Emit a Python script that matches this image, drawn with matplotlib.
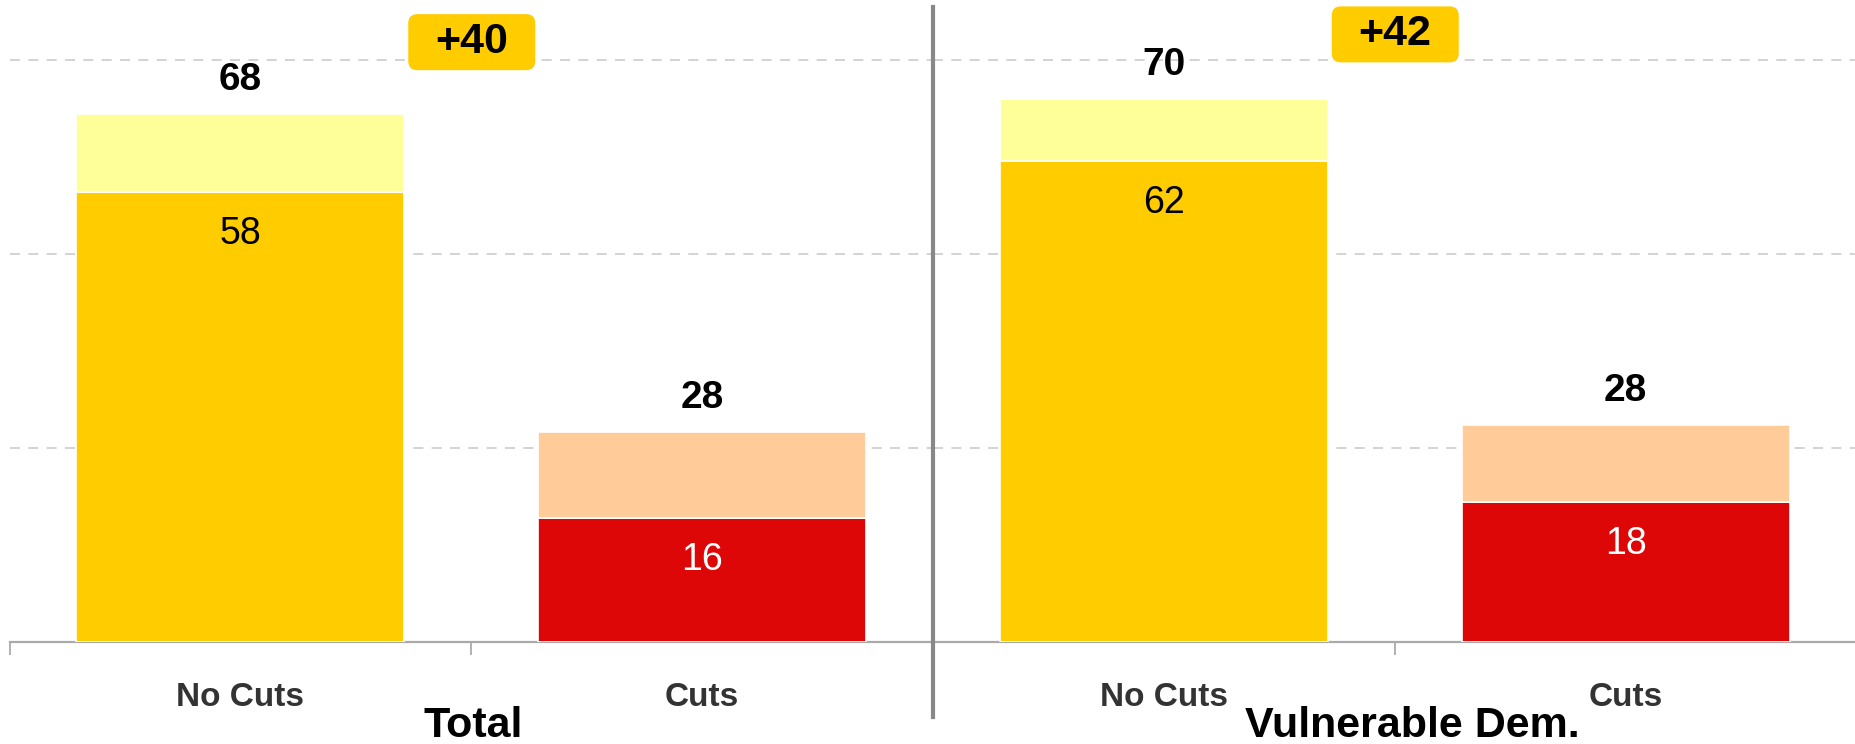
import matplotlib
matplotlib.use('Agg')
import matplotlib.pyplot as plt
from matplotlib.patches import FancyBboxPatch
from matplotlib.lines import Line2D
from matplotlib.transforms import IdentityTransform

plt.rcParams['font.family'] = ['Liberation Sans', 'DejaVu Sans']

groups = ['Total', 'Vulnerable Dem.']
categories = ['No Cuts', 'Cuts']
base_vals = [[58, 16], [62, 18]]
total_vals = [[68, 27], [70, 28]]
total_labels = [['68', '28'], ['70', '28']]
gap_labels = ['+40', '+42']

base_colors = ['#FFCC00', '#DD0707']
top_colors = ['#FFFF99', '#FFCC99']
inner_text = ['black', 'white']

W, H = 1855, 744
fig = plt.figure(figsize=(W / 100, H / 100), dpi=100)

base_y = 642           # pixel row of the baseline (from top)
ymax = base_y / 7.76   # axes reaches the top of the figure
panel_w = 923.5
group_label_x = [473, 1412]
badge_lift = [9.3, 8.3]

for g in range(2):
	x0 = 9.5 + g * panel_w
	ax = fig.add_axes([x0 / W, (H - base_y) / H, panel_w / W, base_y / H])
	ax.set_xlim(-0.5, 1.5)
	ax.set_ylim(0, ymax)

	xs = list(range(len(categories)))
	tops = [t - b for t, b in zip(total_vals[g], base_vals[g])]
	ax.bar(xs, base_vals[g], width=0.71, color=base_colors, edgecolor='white', linewidth=1.2, zorder=3)
	ax.bar(xs, tops, bottom=base_vals[g], width=0.71, color=top_colors, edgecolor='white', linewidth=1.2, zorder=3)

	for i in xs:
		ax.text(i, total_vals[g][i] + 4.4, total_labels[g][i], ha='center', va='center',
			fontsize=28, fontweight='bold', color='black', zorder=5)
		ax.text(i, base_vals[g][i] - 5.4, str(base_vals[g][i]), ha='center', va='center',
			fontsize=27, color=inner_text[i], zorder=5)

	# difference badge
	by = max(total_vals[g]) + badge_lift[g]
	cx, cy = ax.transData.transform((0.5, by))
	badge = FancyBboxPatch((cx - 63, cy - 28), 127, 56, boxstyle='round,pad=0,rounding_size=9',
		facecolor='#FFCC00', edgecolor='none', transform=IdentityTransform(), zorder=4, clip_on=False)
	ax.add_patch(badge)
	ax.text(0.5, by, gap_labels[g], ha='center', va='center', fontsize=31, fontweight='bold',
		color='black', zorder=6)

	ax.set_yticks([25, 50, 75])
	ax.set_yticklabels([])
	ax.tick_params(axis='y', length=0)
	ax.yaxis.grid(True, color='#CCCCCC', linestyle=(0, (6, 5)), linewidth=1.2, zorder=0)
	ax.set_axisbelow(True)

	ax.set_xticks(xs)
	ax.set_xticklabels(categories, fontsize=24, fontweight='bold', color='#333333')
	ax.tick_params(axis='x', which='major', length=0, pad=29)
	ax.set_xticks([-0.5, 0.5, 1.5], minor=True)
	ax.tick_params(axis='x', which='minor', length=9, width=1.3, color='#AAAAAA')

	for s in ['top', 'left', 'right']:
		ax.spines[s].set_visible(False)
	ax.spines['bottom'].set_color('#AAAAAA')
	ax.spines['bottom'].set_linewidth(1.6)

	fig.text(group_label_x[g] / W, (H - 726) / H, groups[g], ha='center', va='center',
		fontsize=31, fontweight='bold', color='black')

# divider between the two panels
fig.add_artist(Line2D([933 / W, 933 / W], [(H - 7) / H, (H - 717) / H], color='#888888',
	linewidth=3, transform=fig.transFigure))

fig.savefig('out.png', dpi=100)
